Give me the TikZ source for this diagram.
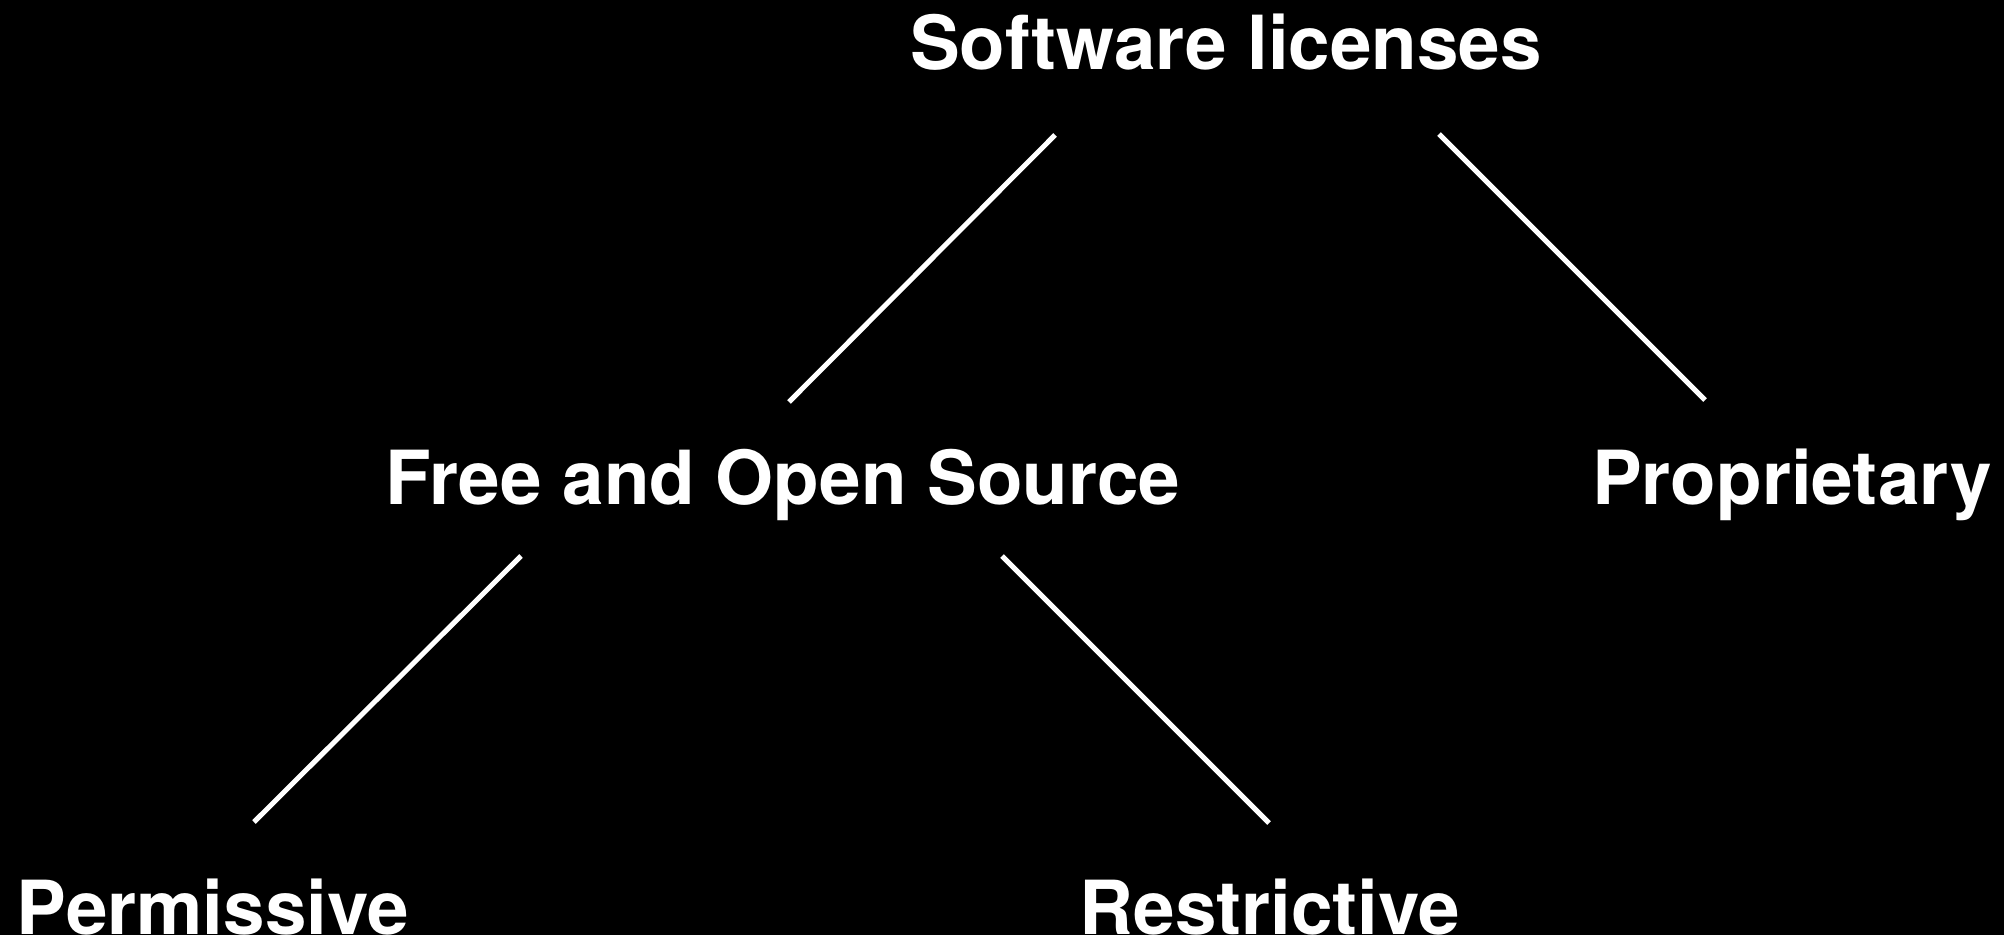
\documentclass[tikz,border=0pt]{standalone}
\usepackage{fontspec}
\setmainfont{TeX Gyre Heros}
\usepackage{xcolor}
\usepackage{tikz}
\usetikzlibrary{calc}

\tikzset{
  lic/.style={anchor=base, inner sep=0pt, text=white,
    font=\fontsize{37.3}{40}\selectfont\bfseries},
  branch/.style={draw=white, line width=2.5pt}
}

\begin{document}
\begin{tikzpicture}[x=0.5pt,y=0.5pt]
  \path[use as bounding box] (0,0) rectangle (2004,934);
  \fill[black] (-4,-4) rectangle (2008,938);

  % licence tree
  \node[lic] (root)  at (1226,864) {Software licenses};
  \node[lic] (foss)  at (783,430)  {Free and Open Source};
  \node[lic] (prop)  at (1792,430) {Proprietary};
  \node[lic] (perm)  at (213,0)    {Permissive};
  \node[lic] (restr) at (1270,0)   {Restrictive};

  \draw[branch] ([shift={(-171,-65)}]root.base) -- ([shift={(6,102)}]foss.base);
  \draw[branch] ([shift={(213,-64)}]root.base)  -- ([shift={(-87,104)}]prop.base);
  \draw[branch] ([shift={(-262,-52)}]foss.base) -- ([shift={(41,112)}]perm.base);
  \draw[branch] ([shift={(219,-52)}]foss.base)  -- ([shift={(-1,111)}]restr.base);
\end{tikzpicture}
\end{document}
